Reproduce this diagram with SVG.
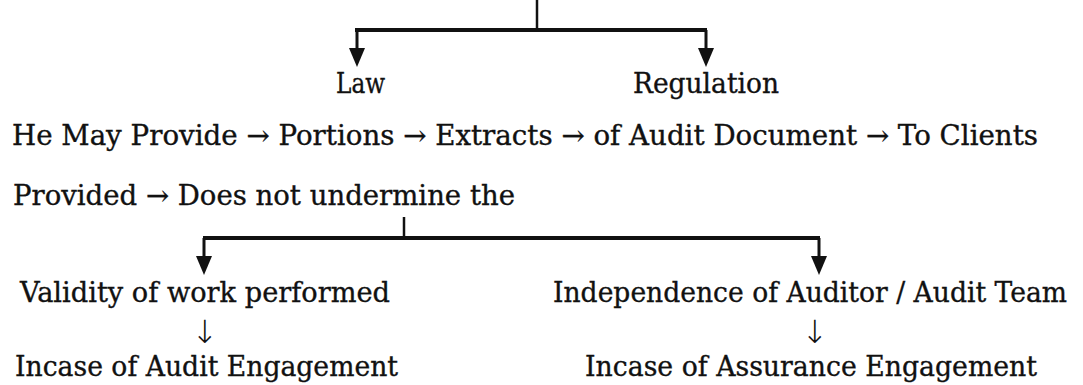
<svg xmlns="http://www.w3.org/2000/svg" width="1083" height="385" viewBox="0 0 1083 385">
<defs>
<style>
.t{font-family:"DejaVu Serif","DejaVu Sans",serif;font-size:27px;fill:#111;stroke:#111;stroke-width:0.35}
.ar{font-family:"DejaVu Sans",sans-serif;font-size:32px;font-weight:200;stroke-width:0}
.ln{stroke:#111;fill:none}
.bar{stroke-width:4}
.stem{stroke-width:2.5}
.drop{stroke-width:3}
.head{fill:#111}
</style>
</defs>
<rect width="1083" height="385" fill="#ffffff"/>
<g id="connectors">
<line class="ln stem" x1="537" y1="0" x2="537" y2="30"/>
<line class="ln bar" x1="355" y1="30" x2="707" y2="30"/>
<path class="ln drop" d="M357,30 V50"/>
<path class="head" d="M349,48 L365,48 L357,67 Z"/>
<path class="ln drop" d="M706,30 V50"/>
<path class="head" d="M698,48 L714,48 L706,67 Z"/>
<line class="ln stem" x1="404" y1="217" x2="404" y2="238"/>
<line class="ln bar" x1="203" y1="238" x2="820" y2="238"/>
<path class="ln drop" d="M204,238 V258"/>
<path class="head" d="M196,256 L212,256 L204,275 Z"/>
<path class="ln drop" d="M819,238 V258"/>
<path class="head" d="M811,256 L827,256 L819,275 Z"/>
</g>
<g id="law"><text class="t" x="336" y="93" textLength="49" lengthAdjust="spacingAndGlyphs">Law</text></g>
<g id="regulation"><text class="t" x="633" y="93" textLength="146" lengthAdjust="spacingAndGlyphs">Regulation</text></g>
<g id="provide"><text class="t" x="12" y="145" textLength="1026" lengthAdjust="spacingAndGlyphs">He May Provide → Portions → Extracts → of Audit Document → To Clients</text></g>
<g id="provided"><text class="t" x="13" y="205" textLength="502" lengthAdjust="spacingAndGlyphs">Provided → Does not undermine the</text></g>
<g id="validity">
<text class="t" x="20" y="302" textLength="370" lengthAdjust="spacingAndGlyphs">Validity of work performed</text>
<text class="t ar" x="205" y="343" text-anchor="middle">↓</text>
<text class="t" x="15" y="376" textLength="383" lengthAdjust="spacingAndGlyphs">Incase of Audit Engagement</text>
</g>
<g id="independence">
<text class="t" x="553" y="302" textLength="514" lengthAdjust="spacingAndGlyphs">Independence of Auditor / Audit Team</text>
<text class="t ar" x="815" y="343" text-anchor="middle">↓</text>
<text class="t" x="585" y="376" textLength="452" lengthAdjust="spacingAndGlyphs">Incase of Assurance Engagement</text>
</g>
</svg>
